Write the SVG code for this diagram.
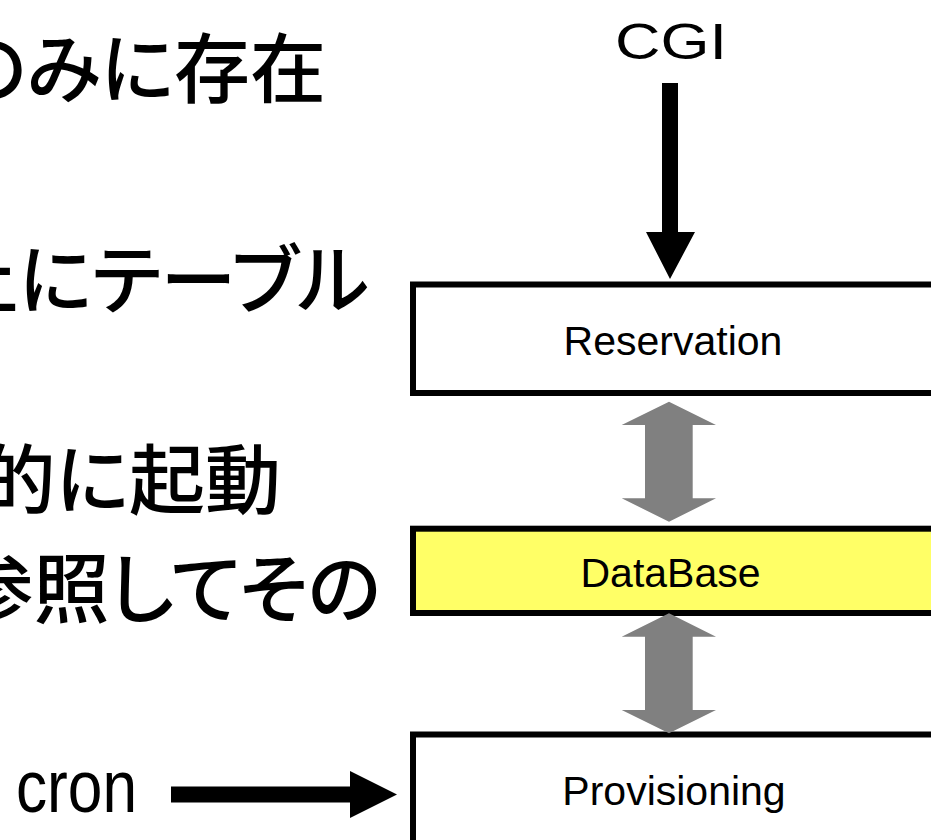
<svg xmlns="http://www.w3.org/2000/svg" width="931" height="840" viewBox="0 0 931 840">
<style>
.jp{font-family:"Noto Sans CJK JP","Noto Sans",sans-serif;font-size:76px;font-weight:500;fill:#000;text-anchor:end;font-feature-settings:"palt"}
.box{stroke:#000;stroke-width:6}
.lbl{font-family:"Liberation Sans",Arial,sans-serif;font-size:41px;fill:#000;text-anchor:middle}
.big{font-family:"Liberation Sans",Arial,sans-serif;fill:#000}
.gray{fill:#808080}
</style>
<rect width="931" height="840" fill="#fff"/>
<g id="bullets">
<text class="jp" x="326" y="97">のみに存在</text>
<text class="jp" x="369" y="308">上にテーブル</text>
<text class="jp" x="281" y="508">的に起動</text>
<text class="jp" x="381" y="617">参照してその</text>
</g>
<g id="cgi"><text class="big" x="615" y="59" font-size="50" textLength="112" lengthAdjust="spacingAndGlyphs">CGI</text></g>
<g id="cron"><text class="big" x="16" y="812" font-size="74" textLength="121" lengthAdjust="spacingAndGlyphs">cron</text></g>
<g id="reservation">
<rect class="box" x="413" y="284.5" width="530" height="108.5" fill="#fff"/>
<text class="lbl" x="673" y="355">Reservation</text>
</g>
<g id="database">
<rect class="box" x="413" y="528.7" width="530" height="84.3" fill="#ffff66"/>
<text class="lbl" x="670.5" y="587">DataBase</text>
</g>
<g id="provisioning">
<rect class="box" x="413" y="734.5" width="530" height="110" fill="#fff"/>
<text class="lbl" x="674" y="805">Provisioning</text>
</g>
<g id="connectors">
<polygon points="662,83 678,83 678,232 695,232 670,279 646,232 662,232" fill="#000"/>
<polygon points="171,786.5 350,786.5 350,771 397,794.5 350,818 350,802.5 171,802.5" fill="#000"/>
<polygon class="gray" points="669,401.7 716,425 692.7,425 692.7,498.3 716,498.3 669,521.7 621.7,498.3 645,498.3 645,425 621.7,425"/>
<polygon class="gray" points="669,613.3 716,636.7 692.7,636.7 692.7,710 716,710 669,733.3 621.7,710 645,710 645,636.7 621.7,636.7"/>
</g>
</svg>
